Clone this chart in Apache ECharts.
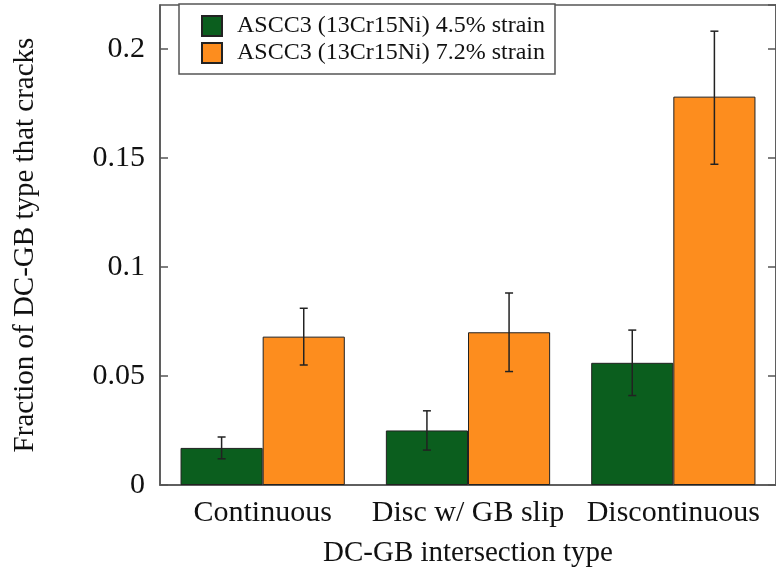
<!DOCTYPE html>
<html>
<head>
<meta charset="utf-8">
<script src="https://cdn.jsdelivr.net/npm/echarts@6/dist/echarts.min.js"></script>
<style>
  html, body { margin: 0; padding: 0; background: #fff; }
  #chart { width: 776px; height: 575px; }
</style>
</head>
<body>
<div id="chart"></div>
<script>
// values
var categories = ['Continuous', 'Disc w/ GB slip', 'Discontinuous']
var seriesNames = ['ASCC3 (13Cr15Ni) 4.5% strain', 'ASCC3 (13Cr15Ni) 7.2% strain']
var strain45 = [0.017, 0.025, 0.056]
var strain45Lo = [0.012, 0.016, 0.041]
var strain45Hi = [0.022, 0.034, 0.071]
var strain72 = [0.068, 0.070, 0.178]
var strain72Lo = [0.055, 0.052, 0.147]
var strain72Hi = [0.081, 0.088, 0.208]
var yTicks = [0, 0.05, 0.1, 0.15, 0.2]

var colors = ['#0b5e1e', '#fd8d1e']
var font = 'Liberation Serif'
var axisColor = '#555'

// error bars drawn with a custom series, shifted onto the matching bar
function errorItem(offsetSign) {
  return function (params, api) {
    var x = api.value(0)
    var lo = api.coord([x, api.value(1)])
    var hi = api.coord([x, api.value(2)])
    var band = api.size([1, 0])[0]
    var dx = offsetSign * band * 0.8 / 4
    var cx = lo[0] + dx
    var half = 4
    var style = { stroke: '#222', lineWidth: 1.5 }
    return {
      type: 'group',
      children: [
        { type: 'line', shape: { x1: cx, y1: lo[1], x2: cx, y2: hi[1] }, style: style },
        { type: 'line', shape: { x1: cx - half, y1: lo[1], x2: cx + half, y2: lo[1] }, style: style },
        { type: 'line', shape: { x1: cx - half, y1: hi[1], x2: cx + half, y2: hi[1] }, style: style }
      ]
    }
  }
}

function errData(lo, hi) {
  return categories.map(function (c, i) { return [i, lo[i], hi[i]] })
}

var chart = echarts.init(document.getElementById('chart'))
var option = {
  animation: false,
  textStyle: { fontFamily: font },
  grid: {
    left: 160, right: -8, top: 5, bottom: 90,
    show: true, borderColor: axisColor, borderWidth: 1.5,
    containLabel: false
  },
  legend: {
    data: seriesNames,
    orient: 'vertical',
    left: 179, top: 4,
    padding: [10, 10, 9, 22],
    itemWidth: 20, itemHeight: 20, itemGap: 3,
    icon: 'rect',
    backgroundColor: '#fff',
    borderColor: axisColor, borderWidth: 1.5,
    textStyle: { fontFamily: font, fontSize: 24, color: '#111', lineHeight: 23, padding: [0, 0, 0, 10] }
  },
  xAxis: {
    type: 'category',
    data: categories,
    name: 'DC-GB intersection type',
    nameLocation: 'middle',
    nameGap: 54,
    nameTextStyle: { fontFamily: font, fontSize: 29, color: '#111' },
    axisLine: { lineStyle: { color: axisColor, width: 1.5 } },
    axisTick: { inside: true, length: 8, lineStyle: { color: axisColor, width: 1.5 } },
    axisLabel: { fontFamily: font, fontSize: 30, color: '#111', margin: 13, interval: 0, hideOverlap: false },
    splitLine: { show: false }
  },
  yAxis: [{
    type: 'value',
    min: 0, max: 0.22, interval: 0.05,
    name: 'Fraction of DC-GB type that cracks',
    nameLocation: 'middle',
    nameGap: 120,
    nameTextStyle: { fontFamily: font, fontSize: 29, color: '#111' },
    axisLine: { show: true, lineStyle: { color: axisColor, width: 1.5 } },
    axisTick: { show: true, inside: true, length: 8, lineStyle: { color: axisColor, width: 1.5 } },
    axisLabel: {
      fontFamily: font, fontSize: 30, color: '#111', margin: 15, showMaxLabel: false,
      formatter: function (v) { return yTicks.indexOf(+v.toFixed(2)) >= 0 ? String(+v.toFixed(2)) : '' }
    },
    splitLine: { show: false }
  }, {
    type: 'value',
    position: 'right',
    min: 0, max: 0.22, interval: 0.05,
    axisLine: { show: true, lineStyle: { color: axisColor, width: 1.5 } },
    axisTick: { show: true, inside: true, length: 8, lineStyle: { color: axisColor, width: 1.5 } },
    axisLabel: { show: false },
    splitLine: { show: false }
  }],
  series: [
    {
      name: seriesNames[0], type: 'bar', data: strain45,
      barGap: '0%', barCategoryGap: '20%',
      itemStyle: { color: colors[0], borderColor: '#222', borderWidth: 1 }
    },
    {
      name: seriesNames[1], type: 'bar', data: strain72,
      barGap: '0%', barCategoryGap: '20%',
      itemStyle: { color: colors[1], borderColor: '#222', borderWidth: 1 }
    },
    { type: 'custom', renderItem: errorItem(-1), data: errData(strain45Lo, strain45Hi), z: 5 },
    { type: 'custom', renderItem: errorItem(1), data: errData(strain72Lo, strain72Hi), z: 5 }
  ]
}
chart.setOption(option)
</script>
</body>
</html>
